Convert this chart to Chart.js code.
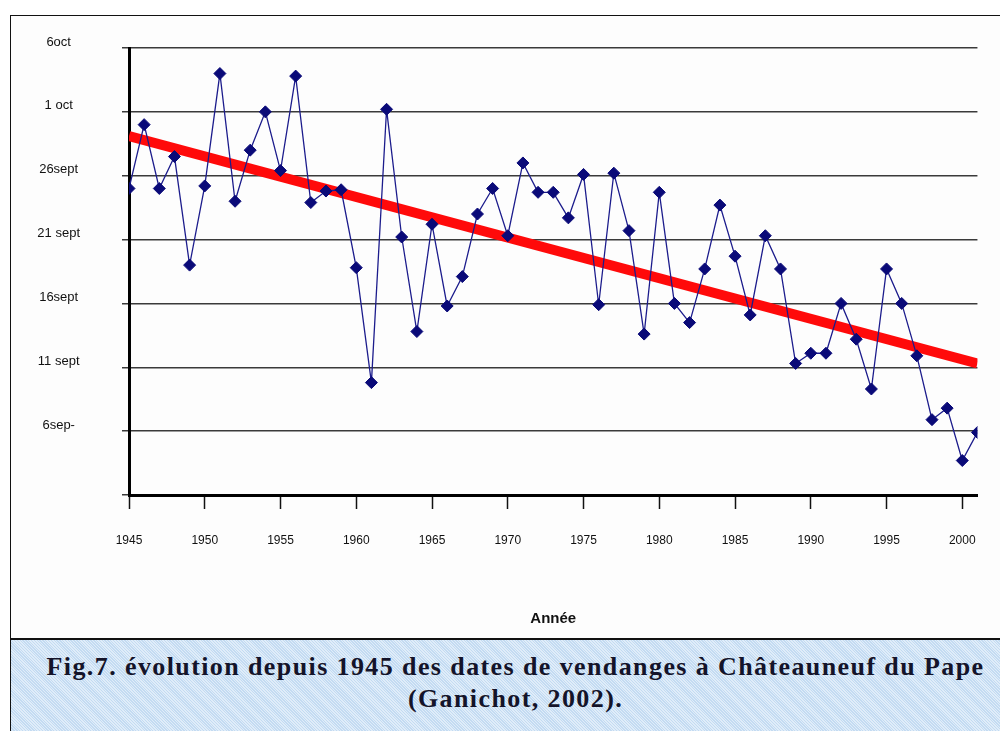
<!DOCTYPE html>
<html lang="fr">
<head>
<meta charset="utf-8">
<title>Dates de vendanges à Châteauneuf du Pape</title>
<script src="https://cdn.jsdelivr.net/npm/chart.js@4.4.1/dist/chart.umd.min.js"></script>
<style>
  html, body {
    margin: 0;
    padding: 0;
    width: 1000px;
    height: 731px;
    overflow: hidden;
    background: #fff;
  }
  #frame {
    position: absolute;
    left: 10px;
    top: 15px;
    width: 1010px;
    height: 623px;
    border-left: 1.5px solid #111;
    border-top: 1.5px solid #111;
    background: #fdfdfd;
  }
  #chartBox {
    position: absolute;
    left: 12px;
    top: 17px;
    width: 988px;
    height: 619px;
  }
  #caption {
    position: absolute;
    left: 10px;
    top: 638px;
    width: 1010px;
    height: 100px;
    border-left: 1.5px solid #111;
    border-top: 2px solid #111;
    background-color: #cfe3f6;
    background-image: repeating-linear-gradient(45deg, rgba(255,255,255,0.35) 0 1px, rgba(160,195,230,0.25) 1px 2px);
    font-family: "Liberation Serif", "Times New Roman", serif;
    font-weight: bold;
    font-size: 26px;
    line-height: 32px;
    letter-spacing: 1.4px;
    color: #14142a;
    text-align: center;
    padding-top: 11px;
    box-sizing: border-box;
  }
</style>
</head>
<body>
<div id="frame"></div>
<div id="chartBox"><canvas id="harvestChart" width="988" height="619"></canvas></div>
<div id="caption">Fig.7. évolution depuis 1945 des dates de vendanges à Châteauneuf du Pape<br>(Ganichot, 2002).</div>

<script>
// harvest date per year, in days counted from 1 September
const years = [
  1945, 1946, 1947, 1948, 1949, 1950, 1951, 1952, 1953, 1954,
  1955, 1956, 1957, 1958, 1959, 1960, 1961, 1962, 1963, 1964,
  1965, 1966, 1967, 1968, 1969, 1970, 1971, 1972, 1973, 1974,
  1975, 1976, 1977, 1978, 1979, 1980, 1981, 1982, 1983, 1984,
  1985, 1986, 1987, 1988, 1989, 1990, 1991, 1992, 1993, 1994,
  1995, 1996, 1997, 1998, 1999, 2000, 2001
];
const harvestDays = [
  24, 29, 24, 26.5, 18, 24.2, 33, 23, 27, 30,
  25.4, 32.8, 22.9, 23.8, 23.9, 17.8, 8.8, 30.2, 20.2, 12.8,
  21.2, 14.8, 17.1, 22, 24, 20.3, 26, 23.7, 23.7, 21.7,
  25.1, 14.9, 25.2, 20.7, 12.6, 23.7, 15, 13.5, 17.7, 22.7,
  18.7, 14.1, 20.3, 17.7, 10.3, 11.1, 11.1, 15, 12.2, 8.3,
  17.7, 15, 10.9, 5.9, 6.8, 2.7, 4.9
];

// trend line end points
const trendYears = [1945, 2001];
const trendDays = [28.1, 10.3];

// axis ticks
const xTickYears = [1945, 1950, 1955, 1960, 1965, 1970, 1975, 1980, 1985, 1990, 1995, 2000];
const yTickDays = [0, 5, 10, 15, 20, 25, 30, 35];
const yTickLabels = ['', '6sep-', '11 sept', '16sept', '21 sept', '26sept', '1 oct', '6oct'];

const harvestPoints = years.map((y, i) => ({ x: y, y: harvestDays[i] }));
const trendPoints = trendYears.map((y, i) => ({ x: y, y: trendDays[i] }));

new Chart(document.getElementById('harvestChart'), {
  type: 'line',
  data: {
    datasets: [
      {
        label: 'Date de vendange',
        data: harvestPoints,
        borderColor: '#1c1c8c',
        borderWidth: 1.3,
        pointStyle: 'rectRot',
        pointRadius: 6,
        pointBackgroundColor: '#0a0a78',
        pointBorderColor: '#0a0a78',
        pointBorderWidth: 1,
        tension: 0
      },
      {
        label: 'Tendance',
        data: trendPoints,
        borderColor: '#ff0a0a',
        borderWidth: 10,
        pointRadius: 0,
        borderCapStyle: 'butt',
        tension: 0
      }
    ]
  },
  options: {
    responsive: false,
    animation: false,
    events: [],
    layout: { padding: { top: 31, right: 20, bottom: 0, left: 0 } },
    plugins: {
      legend: { display: false },
      tooltip: { enabled: false }
    },
    scales: {
      x: {
        type: 'linear',
        min: 1945,
        max: 2001,
        afterBuildTicks: axis => { axis.ticks = xTickYears.map(v => ({ value: v })); },
        afterFit: axis => { axis.height = 141; },
        grid: {
          drawOnChartArea: false,
          drawTicks: true,
          tickLength: 14,
          tickColor: '#111',
          tickWidth: 1.5
        },
        border: { display: true, color: '#000', width: 3 },
        ticks: {
          padding: 24,
          maxRotation: 0,
          autoSkip: false,
          color: '#111',
          font: { family: 'Liberation Sans', size: 12 },
          callback: v => String(v)
        },
        title: {
          display: true,
          text: 'Année',
          color: '#111',
          font: { family: 'Liberation Sans', size: 15, weight: 'bold' },
          padding: { top: 0, bottom: 8 }
        }
      },
      y: {
        min: 0,
        max: 35,
        afterBuildTicks: axis => { axis.ticks = yTickDays.map(v => ({ value: v })); },
        // fixed width; the wide label padding should not push the plot down
        afterFit: axis => {
          axis.width = 117;
          axis.paddingTop = 0;
          axis.paddingBottom = 0;
        },
        grid: {
          color: '#3a3a3a',
          lineWidth: 1.5,
          drawTicks: true,
          tickLength: 7,
          tickColor: '#3a3a3a'
        },
        border: { display: true, color: '#000', width: 3 },
        ticks: {
          padding: 42,
          crossAlign: 'center',
          labelOffset: -6,
          color: '#111',
          font: { family: 'Liberation Sans', size: 13 },
          callback: v => yTickLabels[yTickDays.indexOf(v)]
        }
      }
    }
  }
});
</script>
</body>
</html>
